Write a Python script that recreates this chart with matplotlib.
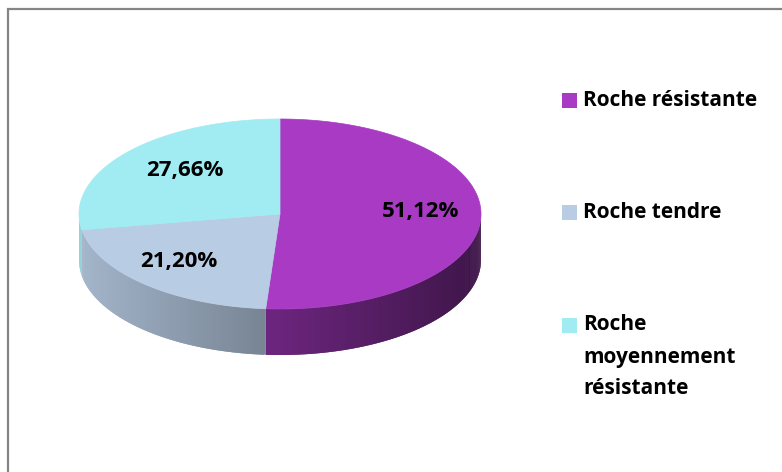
import numpy as np
import matplotlib
matplotlib.use("Agg")
import matplotlib.pyplot as plt
from matplotlib.patches import Polygon, Rectangle

# rock type shares (%)
labels = ["Roche résistante", "Roche tendre", "Roche\nmoyennement\nrésistante"]
values = [51.12, 21.20, 27.66]
value_text = ["51,12%", "21,20%", "27,66%"]
colors = ["#A83AC4", "#B8CCE4", "#A0ECF2"]

plt.rcParams["font.family"] = ["Open Sans", "DejaVu Sans"]

fig = plt.figure(figsize=(7.82, 4.72), dpi=100)
ax = fig.add_axes([0, 0, 1, 1])
ax.set_xlim(0, 782)
ax.set_ylim(472, 0)
ax.axis("off")

# frame around the chart area
fig.add_artist(Rectangle((8 / 782, -0.05), 1.2, 1 - 9 / 472 + 0.05,
                         transform=fig.transFigure, fill=False,
                         edgecolor="#858585", linewidth=1.6))

# ellipse layout for the tilted pie
cx, cy, a, b, depth = 280, 214, 201, 95, 46


def pt(theta_deg, dy=0.0):
    t = np.radians(theta_deg)
    return cx + a * np.sin(t), cy - b * np.cos(t) + dy


def shade(color, x):
    rgb = np.array(matplotlib.colors.to_rgb(color))
    f = 0.63 - 0.26 * (x - cx) / a
    return np.clip(rgb * f, 0, 1)


fracs = np.array(values) / sum(values) * 360.0
starts = np.concatenate([[0.0], np.cumsum(fracs)[:-1]])

# side walls, only the front half (90..270 deg clockwise from top) shows
for s, w, c in zip(starts, fracs, colors):
    lo, hi = max(s, 90.0), min(s + w, 270.0)
    if lo >= hi:
        continue
    edges = np.linspace(lo, hi, int((hi - lo) * 2) + 2)
    step = edges[1] - edges[0]
    for t0, t1 in zip(edges[:-1], edges[1:]):
        t1x = min(t1 + step, hi)
        xm, ym = pt((t0 + t1) / 2)
        th = np.array([t0, (t0 + t1x) / 2, t1x])
        xs, ys = pt(th)
        poly = np.column_stack([np.r_[xs, xs[::-1]], np.r_[ys, ys[::-1] + depth]])
        ax.add_patch(Polygon(poly, closed=True, facecolor=shade(c, xm),
                             edgecolor="none", linewidth=0))

# top faces
for s, w, c in zip(starts, fracs, colors):
    th = np.linspace(s, s + w, 200)
    xs, ys = pt(th)
    poly = np.column_stack([np.r_[cx, xs], np.r_[cy, ys]])
    ax.add_patch(Polygon(poly, closed=True, facecolor=c, edgecolor=c, linewidth=0.5))

# value labels
label_r = [0.70, 0.75, 0.62]
for s, w, txt, r in zip(starts, fracs, value_text, label_r):
    t = np.radians(s + w / 2)
    x = cx + a * r * np.sin(t)
    y = cy - b * r * np.cos(t) - 5
    ax.text(x, y, txt, ha="center", va="center", fontsize=16,
            fontweight="bold", color="black")

# legend
leg_y = [100, 212, 325]
for c, lab, y in zip(colors, labels, leg_y):
    ax.add_patch(Rectangle((562, y - 7.5), 15, 15, facecolor=c, edgecolor="none"))
    for i, line in enumerate(lab.split("\n")):
        ax.text(583, y + i * 32, line, ha="left", va="center", fontsize=15,
                fontweight="bold", color="black")

fig.savefig("out.png", dpi=100)
